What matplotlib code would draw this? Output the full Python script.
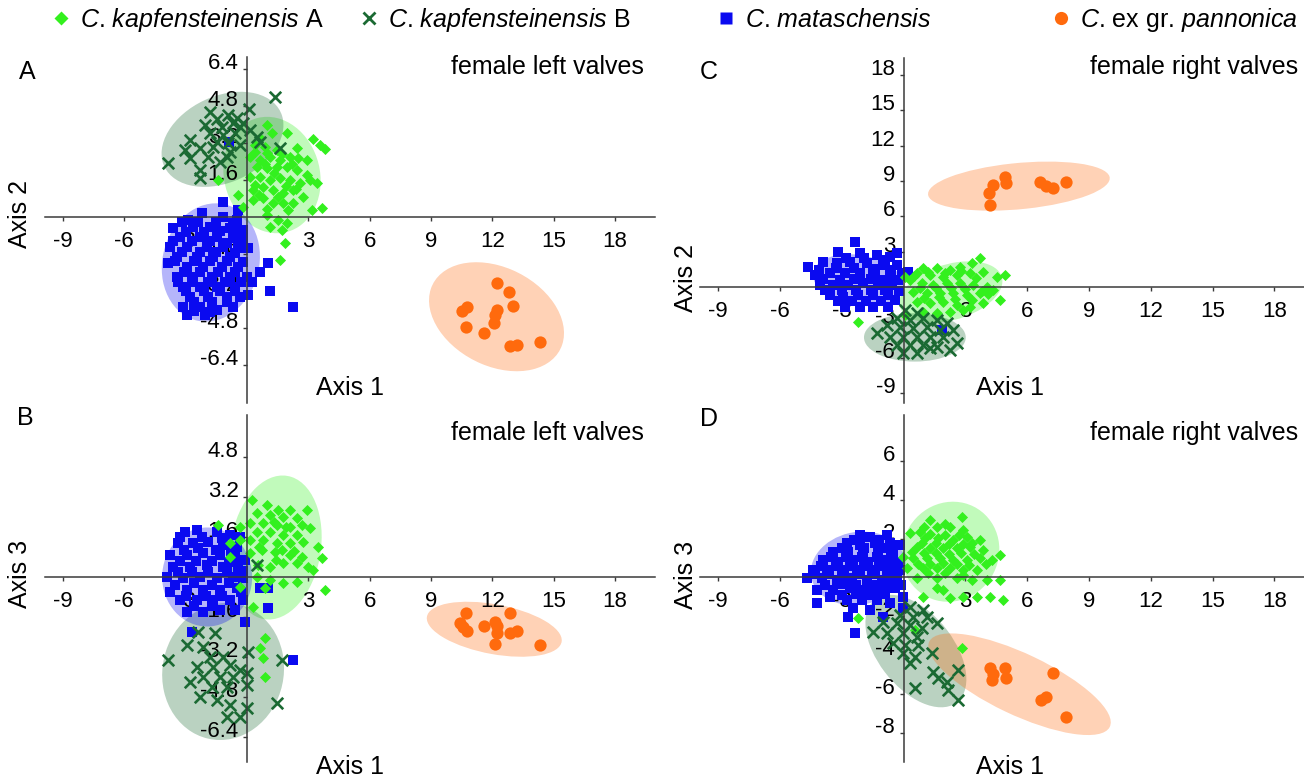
import numpy as np
import matplotlib
matplotlib.use('Agg')
import matplotlib.pyplot as plt
from matplotlib.patches import Ellipse
from matplotlib.lines import Line2D

plt.rcParams['font.family'] = 'Liberation Sans'
plt.rcParams['mathtext.fontset'] = 'custom'
plt.rcParams['mathtext.it'] = 'Liberation Sans:italic'
plt.rcParams['mathtext.rm'] = 'Liberation Sans'
plt.rcParams['axes.unicode_minus'] = False

# groups, in drawing order of the legend
groups = ['kapA', 'kapB', 'mat', 'pan']
legend_labels = [r'$C$. $kapfensteinensis$ A', r'$C$. $kapfensteinensis$ B',
                 r'$C$. $mataschensis$', r'$C$. ex gr. $pannonica$']

# ---- panel A: female left valves, axis 1 / axis 2 ----
A_kapA = [(0.96, 3.97), (1.21, 3.61), (1.94, 3.64), (0.64, 3.39), (0.39, 3.10), (0.88, 3.03),
          (1.45, 2.89), (2.43, 2.96), (3.24, 3.35), (3.57, 3.10), (3.81, 2.92), (2.10, 2.60),
          (2.51, 2.53), (2.92, 2.46), (0.15, 2.60), (0.64, 2.46), (1.12, 2.60), (1.61, 2.46),
          (0.47, 2.17), (0.96, 2.10), (1.45, 2.17), (1.94, 2.17), (2.43, 2.03), (2.92, 1.81),
          (3.41, 1.45), (0.15, 1.74), (0.64, 1.74), (1.12, 1.59), (1.61, 1.67), (2.10, 1.59),
          (2.59, 1.45), (3.08, 1.59), (-1.40, 1.59), (-0.42, 0.95), (-0.18, 0.45), (0.31, 1.16),
          (0.80, 1.31), (1.29, 1.16), (1.78, 1.02), (2.27, 1.16), (2.75, 0.88), (3.16, 0.30),
          (3.65, 0.37), (0.31, 0.73), (0.80, 0.80), (1.29, 0.59), (1.78, 0.59), (2.27, 0.59),
          (0.96, 0.09), (1.53, -0.13), (1.94, -0.27), (1.12, -0.42), (1.70, -0.56), (1.86, -1.14),
          (1.61, -1.85), (0.4, 2.8), (1.0, 2.75), (1.7, 2.7), (2.2, 2.3), (0.9, 2.3), (1.3, 1.9),
          (0.4, 1.4), (1.9, 1.35), (2.4, 1.2), (0.6, 0.95), (1.5, 0.85), (2.0, 0.3), (1.0, 0.35)]
A_kapB = [(1.37, 5.16), (0.11, 4.64), (-1.81, 4.54), (-0.91, 4.40), (-1.48, 4.21), (-0.67, 4.04),
          (-2.05, 3.97), (-1.24, 3.89), (-0.34, 3.89), (0.15, 3.75), (-1.81, 3.61), (-1.16, 3.53),
          (-0.59, 3.61), (-2.79, 3.32), (-1.48, 3.25), (-0.91, 3.18), (-0.34, 3.10), (0.47, 3.46),
          (0.64, 3.25), (1.61, 2.96), (-3.03, 2.89), (-2.30, 2.96), (-0.83, 2.82), (-2.79, 2.53),
          (-1.89, 2.60), (-0.99, 2.60), (-1.32, 2.39), (-3.85, 2.31), (-2.30, 2.03), (-2.30, 1.67),
          (-0.51, 4.25), (-0.18, 4.04), (-1.65, 3.03)]
A_mat = [(-1.19, 0.66), (-0.42, 0.30), (-2.22, 0.16), (-1.16, 0.01), (-2.87, -0.13), (-0.51, -0.13),
         (-3.60, -0.49), (-2.62, -0.42), (-1.81, -0.42), (-0.83, -0.49), (-0.18, -0.56), (-3.28, -0.85),
         (-2.30, -0.85), (-1.48, -0.85), (-0.67, -0.92), (-3.77, -1.28), (-2.95, -1.28), (-1.97, -1.28),
         (-1.16, -1.28), (-0.42, -1.35), (0.07, -1.35), (-3.44, -1.71), (-2.46, -1.71), (-1.65, -1.71),
         (-0.83, -1.71), (-3.85, -2.00), (-2.95, -2.14), (-2.14, -2.14), (-1.24, -2.14), (-0.42, -2.14),
         (-3.44, -2.57), (-2.62, -2.57), (-1.73, -2.57), (-0.83, -2.57), (-0.02, -2.57), (-3.11, -3.00),
         (-2.30, -3.00), (-1.48, -3.00), (-0.59, -3.00), (-2.79, -3.43), (-1.89, -3.43), (-0.99, -3.43),
         (-0.34, -3.43), (-3.11, -3.86), (-2.30, -3.86), (-1.48, -4.01), (-0.67, -3.86), (-2.95, -4.22),
         (-2.05, -4.22), (1.04, -2.00), (0.64, -2.36), (0.23, -2.79), (1.12, -3.18), (2.23, -3.86),
         (0.07, -3.36), (-0.90, 3.25),
         (-3.2, -0.2), (-2.4, -0.2), (-1.5, -0.2), (-0.7, -0.25), (-3.0, -0.65), (-2.1, -0.65),
         (-1.3, -0.6), (-0.5, -0.7), (-3.6, -1.05), (-2.7, -1.05), (-1.8, -1.05), (-1.0, -1.1),
         (-0.2, -1.0), (-3.2, -1.5), (-2.3, -1.5), (-1.5, -1.5), (-0.6, -1.55), (-3.5, -1.9),
         (-2.6, -1.9), (-1.8, -1.9), (-1.0, -1.9), (-0.2, -1.95), (-3.1, -2.35), (-2.3, -2.35),
         (-1.4, -2.35), (-0.6, -2.35), (-3.4, -2.8), (-2.7, -2.8), (-1.9, -2.8), (-1.1, -2.8),
         (-0.3, -2.8), (-3.0, -3.2), (-2.1, -3.2), (-1.3, -3.2), (-0.6, -3.2), (-2.6, -3.65),
         (-1.7, -3.65), (-1.0, -3.65), (-2.6, -4.05), (-1.8, -4.1)]
A_pan = [(12.21, -2.83), (12.83, -3.22), (13.02, -3.84), (10.50, -4.04), (10.74, -3.89), (12.24, -4.01),
         (12.13, -4.22), (12.09, -4.58), (10.71, -4.73), (11.59, -4.99), (12.86, -5.56), (13.22, -5.50),
         (14.33, -5.38)]
# ellipses: centre x, centre y, half extent x, half extent y, correlation
A_ell = [(1.22, 1.81, 2.38, 2.51, -0.1), (-1.2, 3.35, 2.98, 2.05, 0.3),
         (-1.77, -1.96, 2.4, 2.55, 0.1), (12.2, -4.3, 3.3, 2.35, -0.3)]

# ---- panel B: female left valves, axis 1 / axis 3 ----
B_kapA = [(0.23, 3.08), (0.96, 2.88), (1.53, 2.68), (2.10, 2.68), (2.92, 2.68), (0.47, 2.55),
          (1.12, 2.48), (1.78, 2.41), (2.43, 2.35), (0.15, 2.15), (0.80, 2.15), (1.45, 2.08),
          (2.10, 2.01), (2.67, 2.08), (-0.34, 2.01), (-1.40, 2.08), (0.47, 1.81), (1.12, 1.81),
          (1.78, 1.68), (2.43, 1.68), (3.08, 1.95), (-0.83, 1.35), (-0.34, 1.48), (0.15, 1.48),
          (0.80, 1.48), (1.45, 1.35), (2.10, 1.35), (2.75, 1.41), (3.49, 1.21), (3.65, 0.75),
          (-0.83, 0.81), (0.15, 0.95), (0.72, 1.08), (1.37, 1.01), (2.10, 0.88), (2.67, 0.81),
          (3.24, 0.28), (0.55, 0.48), (1.12, 0.41), (1.78, 0.55), (2.43, 0.55), (3.00, 0.41),
          (0.47, 0.01), (1.12, -0.12), (1.78, -0.25), (2.43, -0.19), (3.81, -0.52), (0.88, -0.45),
          (0.31, -1.19), (0.88, -2.45), (0.64, -2.85), (0.80, -3.25), (0.88, -3.99), (-0.34, -0.39),
          (1.3, 2.2), (1.9, 2.0), (0.6, 1.2), (1.7, 1.1), (2.3, 1.05), (1.4, 0.7)]
B_kapB = [(0.47, 0.48), (-2.38, -2.19), (-1.56, -2.25), (-2.95, -2.72), (-2.14, -2.79), (-3.85, -3.32),
          (-1.81, -3.19), (-1.16, -3.19), (0.07, -2.99), (1.70, -3.32), (-2.46, -3.59), (-1.65, -3.59),
          (-0.83, -3.52), (-0.34, -3.72), (-2.14, -3.99), (-1.32, -3.99), (-0.67, -3.99), (-0.02, -3.85),
          (-2.79, -4.19), (-1.73, -4.39), (-0.99, -4.39), (-0.02, -4.32), (-2.30, -4.79), (-1.48, -4.92),
          (-0.83, -5.12), (-0.02, -5.25), (-0.34, -5.59), (1.45, -5.05), (-0.99, -5.59)]
B_mat = [(-3.03, 1.81), (-2.46, 1.88), (-1.48, 1.81), (-0.83, 1.68), (-0.34, 1.61), (-3.36, 1.35),
         (-2.62, 1.35), (-1.89, 1.41), (-1.16, 1.28), (-0.51, 1.21), (-3.77, 0.88), (-2.95, 0.88),
         (-2.14, 0.95), (-1.32, 0.88), (-0.59, 0.81), (-0.10, 0.68), (-3.60, 0.41), (-2.79, 0.41),
         (-1.97, 0.48), (-1.16, 0.41), (-0.42, 0.41), (-3.93, 0.01), (-3.11, -0.05), (-2.30, 0.01),
         (-1.48, -0.05), (-0.67, 0.01), (-0.18, -0.05), (-3.77, -0.59), (-2.95, -0.52), (-2.14, -0.52),
         (-1.32, -0.52), (-0.51, -0.45), (0.64, -0.45), (1.04, -0.45), (-3.28, -0.92), (-2.46, -0.92),
         (-1.65, -0.92), (-0.83, -0.92), (-0.18, -0.92), (-2.95, -1.39), (-2.14, -1.39), (-1.32, -1.32),
         (1.04, -1.25), (-0.10, -1.79), (-2.71, -2.19), (2.27, -3.32),
         (-3.3, 1.6), (-2.2, 1.6), (-1.2, 1.55), (-3.1, 1.1), (-2.4, 1.15), (-1.5, 1.1), (-0.8, 1.05),
         (-3.3, 0.65), (-2.5, 0.65), (-1.7, 0.65), (-0.9, 0.6), (-0.2, 0.25), (-3.4, 0.2), (-2.7, 0.2),
         (-1.9, 0.2), (-1.0, 0.2), (-3.5, -0.3), (-2.6, -0.25), (-1.7, -0.3), (-0.9, -0.25),
         (-0.3, -0.6), (-3.0, -0.75), (-2.0, -0.75), (-1.2, -0.75), (-2.6, -1.15), (-1.7, -1.15),
         (-0.6, -1.3)]
B_pan = [(10.71, -1.45), (10.42, -1.85), (10.58, -2.01), (10.77, -2.15), (11.59, -1.96), (12.13, -1.79),
         (12.24, -1.96), (12.24, -2.23), (12.13, -2.68), (12.86, -1.43), (12.86, -2.25), (13.22, -2.15),
         (14.33, -2.72)]
B_ell = [(1.4, 1.18, 2.25, 2.88, 0.15), (-1.17, -3.78, 2.98, 2.74, 0.05),
         (-1.95, 0.0, 2.2, 1.98, 0.0), (12.09, -2.09, 3.3, 1.1, -0.4)]

# ---- panel C: female right valves, axis 1 / axis 2 ----
C_kapA = [(3.71, 2.46), (3.31, 2.03), (2.74, 1.75), (2.26, 1.47), (1.61, 1.61), (0.96, 1.61),
          (0.64, 1.19), (1.29, 1.05), (1.93, 0.90), (2.58, 1.05), (3.23, 1.19), (3.88, 1.33),
          (4.52, 0.90), (4.93, 1.05), (0.07, 0.90), (0.32, 0.62), (0.88, 0.34), (1.45, 0.20),
          (2.10, 0.34), (2.74, 0.34), (3.39, 0.20), (4.04, 0.06), (4.36, -0.23), (0.48, -0.37),
          (1.12, -0.51), (1.77, -0.51), (2.42, -0.51), (3.07, -0.65), (3.71, -0.51), (4.68, -1.07),
          (0.64, -1.21), (1.29, -1.36), (1.93, -1.21), (2.58, -1.50), (3.23, -1.64), (3.88, -1.36),
          (0.96, -2.06), (1.61, -2.20), (2.26, -2.06), (2.90, -1.92), (-2.19, -2.91), (0.07, -2.34),
          (0.5, 0.95), (1.2, 1.3), (2.0, 1.2), (2.8, 1.4), (3.5, 0.75), (0.8, -0.05), (1.6, -0.1),
          (2.3, -0.05), (3.0, -0.15), (3.8, -0.3), (1.0, -0.9), (1.7, -0.85), (2.5, -1.0),
          (3.3, -1.1), (4.1, -0.6)]
C_kapB = [(0.07, -1.92), (0.64, -2.20), (-0.33, -2.63), (0.32, -2.77), (0.96, -2.63), (1.61, -2.77),
          (2.10, -3.05), (-0.82, -3.19), (-0.17, -3.33), (0.48, -3.47), (1.12, -3.33), (1.77, -3.62),
          (2.42, -3.62), (-1.30, -3.90), (-0.66, -4.18), (-0.01, -4.18), (0.64, -4.18), (1.29, -4.18),
          (1.93, -4.18), (2.58, -4.75), (-0.33, -4.89), (0.32, -4.89), (0.96, -4.89), (1.61, -5.03),
          (2.26, -5.31), (-0.01, -5.59), (0.64, -5.59), (1.29, -5.17)]
C_mat = [(-2.35, 3.87), (-3.16, 3.02), (-2.11, 2.88), (-1.30, 2.74), (-0.66, 2.60), (-0.33, 2.88),
         (-4.62, 1.75), (-3.89, 2.18), (-3.24, 2.03), (-2.60, 2.18), (-1.79, 2.03), (-0.98, 1.89),
         (-0.33, 1.89), (-4.30, 1.05), (-3.57, 1.19), (-2.84, 1.19), (-2.11, 1.19), (-1.38, 1.05),
         (-0.66, 1.05), (-0.09, 1.19), (-4.05, 0.20), (-3.41, 0.20), (-2.68, 0.20), (-1.95, 0.34),
         (-1.22, 0.20), (-0.57, 0.20), (-3.57, -0.65), (-2.92, -0.79), (-2.19, -0.65), (-1.46, -0.65),
         (-0.74, -0.65), (-2.84, -1.64), (-2.11, -1.64), (-1.46, -1.64), (-0.74, -1.64), (1.85, -3.62),
         (0.23, 1.33),
         (-2.8, 2.5), (-1.9, 2.45), (-0.9, 2.35), (-4.1, 1.5), (-3.3, 1.6), (-2.4, 1.6), (-1.5, 1.55),
         (-0.6, 1.5), (-3.9, 0.7), (-3.1, 0.65), (-2.4, 0.7), (-1.6, 0.7), (-0.9, 0.65), (-0.25, 0.6),
         (-3.8, -0.25), (-3.0, -0.2), (-2.3, -0.2), (-1.6, -0.25), (-0.9, -0.2), (-0.2, -0.3),
         (-3.2, -1.2), (-2.5, -1.2), (-1.8, -1.15), (-1.1, -1.2), (-0.4, -1.1)]
C_pan = [(4.17, 8.02), (4.20, 6.97), (4.33, 8.67), (4.93, 9.32), (4.98, 8.86), (6.63, 8.95),
         (6.92, 8.58), (7.24, 8.39), (7.89, 8.95)]
C_ell = [(2.3, -0.4, 2.5, 2.6, 0.35), (0.55, -4.25, 2.47, 2.05, 0.0),
         (-2.2, 0.6, 2.2, 2.2, -0.2), (5.6, 8.57, 4.41, 2.08, 0.32)]

# ---- panel D: female right valves, axis 1 / axis 3 ----
D_kapA = [(1.29, 2.96), (2.82, 3.13), (1.61, 2.61), (2.26, 2.61), (2.90, 2.44), (0.80, 2.35),
          (0.32, 2.27), (1.04, 2.01), (1.69, 2.01), (2.42, 1.92), (3.07, 2.10), (3.71, 1.92),
          (0.64, 1.58), (1.29, 1.49), (1.93, 1.49), (2.58, 1.49), (3.23, 1.58), (3.88, 1.41),
          (4.68, 1.15), (-0.01, 1.07), (0.48, 0.98), (1.12, 0.98), (1.77, 0.98), (2.42, 0.89),
          (3.07, 0.89), (3.71, 0.98), (4.28, 0.89), (0.15, 0.46), (0.96, 0.46), (1.61, 0.46),
          (2.26, 0.46), (2.90, 0.38), (3.55, 0.38), (0.64, -0.05), (1.61, -0.05), (2.58, -0.05),
          (3.31, -0.14), (4.04, -0.14), (4.68, -0.14), (0.96, -1.00), (1.61, -0.57), (2.26, -1.08),
          (2.90, -1.00), (3.55, -1.00), (4.20, -1.00), (4.85, -1.17), (-2.19, -2.11), (0.56, -2.71),
          (2.82, -3.66), (1.93, -0.65),
          (1.0, 2.6), (2.0, 2.75), (2.7, 2.2), (1.3, 2.25), (2.0, 2.2), (3.3, 1.75), (0.9, 1.75),
          (1.6, 1.75), (2.2, 1.7), (2.9, 1.7), (0.4, 1.3), (1.0, 1.25), (1.6, 1.25), (2.2, 1.2),
          (2.8, 1.25), (3.4, 1.2), (4.0, 0.7), (0.7, 0.7), (1.3, 0.7), (1.9, 0.75), (2.6, 0.7),
          (3.2, 0.65), (1.2, 0.2), (2.0, 0.2), (2.9, 0.1)]
D_kapB = [(0.32, -1.51), (0.96, -1.68), (-0.17, -1.94), (0.48, -2.03), (1.12, -2.03), (1.61, -2.37),
          (-0.98, -2.29), (-0.33, -2.37), (0.32, -2.46), (0.88, -2.63), (-1.46, -2.80), (-0.82, -2.89),
          (-0.01, -2.89), (0.64, -3.06), (-0.49, -3.40), (0.07, -3.49), (0.72, -3.49), (1.37, -3.92),
          (-0.01, -3.92), (0.56, -4.09), (0.32, -4.43), (2.66, -4.78), (1.45, -4.86), (1.69, -5.21),
          (2.10, -5.38), (0.56, -5.72), (2.18, -5.81), (2.66, -6.32)]
D_mat = [(-2.11, 2.18), (-1.63, 2.10), (-0.82, 2.18), (-2.76, 1.75), (-2.11, 1.67), (-1.38, 1.75),
         (-0.66, 1.75), (-0.17, 1.67), (-3.41, 1.32), (-2.68, 1.32), (-1.95, 1.24), (-1.22, 1.32),
         (-0.49, 1.24), (-3.89, 0.89), (-3.16, 0.81), (-2.44, 0.89), (-1.71, 0.81), (-0.98, 0.89),
         (-0.25, 0.81), (-4.38, 0.38), (-3.73, 0.38), (-3.00, 0.38), (-2.27, 0.38), (-1.55, 0.38),
         (-0.82, 0.38), (-0.17, 0.38), (-4.70, -0.05), (-3.97, -0.05), (-3.24, -0.14), (-2.52, -0.05),
         (-1.79, -0.14), (-1.06, -0.14), (-0.33, -0.14), (-4.22, -0.65), (-3.41, -0.65), (-2.60, -0.57),
         (-1.87, -0.65), (-1.14, -0.65), (-0.41, -0.57), (-4.22, -1.34), (-3.57, -1.00), (-2.76, -1.17),
         (-2.03, -1.17), (-1.30, -1.17), (-0.66, -1.34), (-0.01, -1.00), (-2.44, -1.60), (-1.63, -1.68),
         (-0.98, -2.03), (-2.68, -2.03), (-2.36, -2.89), (-0.01, -1.60),
         (-2.4, 1.95), (-1.2, 1.95), (-3.0, 1.5), (-1.9, 1.5), (-0.9, 1.5), (-3.5, 1.05), (-2.8, 1.05),
         (-2.0, 1.05), (-1.3, 1.05), (-0.6, 1.05), (-4.0, 0.6), (-3.3, 0.6), (-2.6, 0.6), (-1.9, 0.6),
         (-1.2, 0.6), (-0.5, 0.6), (-4.3, 0.15), (-3.6, 0.15), (-2.9, 0.15), (-2.1, 0.15), (-1.4, 0.15),
         (-0.6, 0.15), (-3.8, -0.4), (-3.0, -0.35), (-2.3, -0.4), (-1.5, -0.4), (-0.8, -0.35),
         (-0.1, -0.4), (-3.0, -0.9), (-2.3, -0.85), (-1.6, -0.9), (-0.9, -0.85)]
D_pan = [(4.20, -4.69), (4.28, -5.29), (4.33, -5.0), (4.93, -4.69), (4.98, -5.21), (6.66, -6.32),
         (6.92, -6.18), (7.24, -4.95), (7.89, -7.19)]
D_ell = [(2.28, 1.32, 2.37, 2.58, 0.05), (0.6, -3.8, 2.45, 2.9, -0.5),
         (-2.2, 0.46, 2.3, 1.9, 0.1), (5.63, -5.51, 4.43, 2.62, -0.75)]

x_ticks = [-9, -6, -3, 3, 6, 9, 12, 15, 18]
A_yticks = [-6.4, -4.8, -3.2, -1.6, 1.6, 3.2, 4.8, 6.4]
B_yticks = [-6.4, -4.8, -3.2, -1.6, 1.6, 3.2, 4.8]
C_yticks = [-9, -6, -3, 3, 6, 9, 12, 15, 18]
D_yticks = [-8, -6, -4, -2, 2, 4, 6]

colors = {'kapA': '#33f01e', 'kapB': '#1b6a33', 'mat': '#0a0af0', 'pan': '#ff6a0d'}
marks = {
    'kapA': dict(marker='D', s=32, linewidths=0),
    'kapB': dict(marker='x', s=68, linewidths=1.9),
    'mat': dict(marker='s', s=60, linewidths=0),
    'pan': dict(marker='o', s=78, linewidths=0),
}
draw_order = ['mat', 'kapA', 'kapB', 'pan']

W, H = 1304, 780
fig = plt.figure(figsize=(W / 100, H / 100), dpi=100)


def fx(px):
    return px / W


def fy(py):
    return 1 - py / H


def add_ellipse(ax, cx, cy, hx, hy, r, color):
    cov = np.array([[hx ** 2, r * hx * hy], [r * hx * hy, hy ** 2]])
    vals, vecs = np.linalg.eigh(cov)
    angle = np.degrees(np.arctan2(vecs[1, 1], vecs[0, 1]))
    ax.add_patch(Ellipse((cx, cy), 2 * np.sqrt(vals[1]), 2 * np.sqrt(vals[0]), angle=angle,
                         facecolor=color, edgecolor='none', alpha=0.3, zorder=0.3))


def draw_panel(rect, pts, ells, xlim, ylim, yticks):
    ax = fig.add_axes(rect)
    for g, e in zip(groups, ells):
        add_ellipse(ax, *e, colors[g])
    for g in draw_order:
        xy = np.array(pts[g])
        ax.scatter(xy[:, 0], xy[:, 1], c=colors[g], zorder=1, **marks[g])
    ax.set_xlim(*xlim)
    ax.set_ylim(*ylim)
    for side in ['top', 'right']:
        ax.spines[side].set_visible(False)
    for side in ['left', 'bottom']:
        ax.spines[side].set_position(('data', 0))
        ax.spines[side].set_color('#3a3a3a')
        ax.spines[side].set_linewidth(1.1)
    ax.set_xticks(x_ticks, labels=[f'{v:g}' for v in x_ticks])
    ax.set_yticks(yticks, labels=[f'{v:g}' for v in yticks])
    ax.tick_params(direction='out', length=3, width=1, color='#3a3a3a', labelsize=16)
    ax.tick_params(axis='x', pad=7)
    ax.tick_params(axis='y', pad=3)
    for lab in ax.get_yticklabels():
        lab.set_verticalalignment('baseline')
    ax.set_axisbelow(True)
    ax.patch.set_visible(False)
    return ax


draw_panel([fx(45), fy(403), fx(610), 346 / H],
           dict(kapA=A_kapA, kapB=A_kapB, mat=A_mat, pan=A_pan), A_ell,
           (-9.88, 19.95), (-8.02, 6.90), A_yticks)
draw_panel([fx(45), fy(762), fx(610), 347 / H],
           dict(kapA=B_kapA, kapB=B_kapB, mat=B_mat, pan=B_pan), B_ell,
           (-9.88, 19.95), (-7.4, 6.48), B_yticks)
draw_panel([fx(700), fy(403), fx(604), 345 / H],
           dict(kapA=C_kapA, kapB=C_kapB, mat=C_mat, pan=C_pan), C_ell,
           (-9.88, 19.44), (-9.81, 19.43), C_yticks)
draw_panel([fx(700), fy(762), fx(604), 347 / H],
           dict(kapA=D_kapA, kapB=D_kapB, mat=D_mat, pan=D_pan), D_ell,
           (-9.88, 19.44), (-9.52, 8.37), D_yticks)

# axis names, panel letters and titles
for x, y in [(350, 388), (350, 767), (1010, 388), (1010, 767)]:
    fig.text(fx(x), fy(y), 'Axis 1', ha='center', va='center', fontsize=18)
for x, y, t in [(20, 214, 'Axis 2'), (20, 574, 'Axis 3'), (686, 278, 'Axis 2'), (686, 575, 'Axis 3')]:
    fig.text(fx(x), fy(y), t, ha='center', va='center', rotation=90, fontsize=18)
for x, y, t in [(27, 72, 'A'), (25, 418, 'B'), (709, 72, 'C'), (709, 419, 'D')]:
    fig.text(fx(x), fy(y), t, ha='center', va='center', fontsize=18)
for x, y, t in [(644, 67, 'female left valves'), (644, 433, 'female left valves'),
                (1298, 67, 'female right valves'), (1298, 433, 'female right valves')]:
    fig.text(fx(x), fy(y), t, ha='right', va='center', fontsize=18)

# legend across the top
handles = [
    Line2D([], [], ls='none', marker='D', ms=7, mfc=colors['kapA'], mec='none'),
    Line2D([], [], ls='none', marker='x', ms=9, mew=2, color=colors['kapB']),
    Line2D([], [], ls='none', marker='s', ms=8.5, mfc=colors['mat'], mec='none'),
    Line2D([], [], ls='none', marker='o', ms=9.5, mfc=colors['pan'], mec='none'),
]
for h, lab, left in zip(handles, legend_labels, [51, 359, 716, 1051]):
    fig.legend(handles=[h], labels=[lab], loc='center left', bbox_to_anchor=(fx(left), fy(20)),
               frameon=False, fontsize=18, handlelength=0.8, handletextpad=0.36,
               borderpad=0, borderaxespad=0)

fig.savefig('out.png', dpi=100)
